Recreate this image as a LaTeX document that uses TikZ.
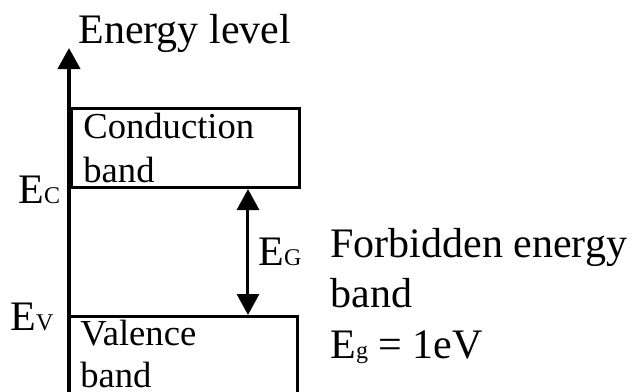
\documentclass[tikz,border=0pt]{standalone}
\usepackage{fontspec}
\setmainfont{Liberation Serif}
\usetikzlibrary{arrows.meta}
\newcommand{\sublab}[1]{{\fontsize{12}{12}\selectfont #1}}

\begin{document}
\begin{tikzpicture}[x=0.5pt,y=-0.5pt,font=\fontsize{21}{25}\selectfont,
  band/.style={draw,line width=1.5pt,inner sep=0pt,anchor=north west},
  lab/.style={inner sep=0pt,anchor=base west},
  small/.style={lab,font=\fontsize{18.3}{22}\selectfont},
  >={Triangle[length=10.5pt,width=11pt]}]
\useasboundingbox (0,0) rectangle (634,392);

\node[band,minimum width=114pt,minimum height=39.5pt] (cb) at (70,107) {};
\node[band,minimum width=114.5pt,minimum height=60pt] (vb) at (67,315) {};

\coordinate (top) at (69,48);
\coordinate (bot) at (69,400);
\draw[line width=2pt,->] (bot) -- (top);

\coordinate (gx) at (248,0);
\draw[line width=1.5pt,<->] (cb.south -| gx) -- (vb.north -| gx);

\node[lab] (title) at (78,43) {Energy level};
\node[small] (c1) at (83,138) {Conduction};
\node[small] (c2) at (83,182) {band};
\node[small] (v1) at (80,345) {Valence};
\node[small] (v2) at (80,387) {band};

\node[lab] (ec) at (18,203) {E\sublab{C}};
\node[lab] (ev) at (10,330) {E\sublab{V}};
\node[lab] (eg) at (258,265) {E\sublab{G}};

\node[lab] (f1) at (330,257) {Forbidden energy};
\node[lab] (f2) at (330,307) {band};
\node[lab] (f3) at (330,358) {E\sublab{g} = 1eV};
\end{tikzpicture}
\end{document}
